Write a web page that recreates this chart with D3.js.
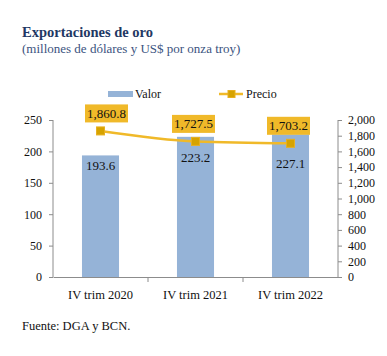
<!DOCTYPE html>
<html><head><meta charset="utf-8">
<script src="https://cdn.jsdelivr.net/npm/d3@7"></script>
</head><body style="margin:0;background:#fff"><svg id="c" width="387" height="356" style="display:block"></svg>
<script>
const categories = ["IV trim 2020", "IV trim 2021", "IV trim 2022"];
const valor = [193.6, 223.2, 227.1];
const precio = [1860.8, 1727.5, 1703.2];
const leftTicks = [0, 50, 100, 150, 200, 250];
const rightTicks = [0, 200, 400, 600, 800, 1000, 1200, 1400, 1600, 1800, 2000];
const barLabelDy = [10, 20, 29];

const FF = '"Liberation Serif"';
const svg = d3.select("#c");
const m = {l: 53, r: 338, t: 120, b: 277};
const x = d3.scaleBand().domain(categories).range([m.l, m.r]).paddingInner(0.61).paddingOuter(0.305);
const yL = d3.scaleLinear().domain([0, 250]).range([m.b, m.t]);
const yR = d3.scaleLinear().domain([0, 2000]).range([m.b, m.t]);
const axisCol = "#8c8c8c";

const T = (sel) => sel.style("font-family", FF);
T(svg.append("text")).attr("x", 22).attr("y", 37).attr("font-size", 14.5).attr("font-weight", "bold").attr("fill", "#1f3864").text("Exportaciones de oro");
T(svg.append("text")).attr("x", 22).attr("y", 53).attr("font-size", 13).attr("fill", "#3b5380").text("(millones de dólares y US$ por onza troy)");
T(svg.append("text")).attr("x", 22).attr("y", 330).attr("font-size", 12.5).attr("fill", "#111").text("Fuente: DGA y BCN.");

// legend
svg.append("rect").attr("x", 108).attr("y", 91).attr("width", 25).attr("height", 6).attr("fill", "#95b3d7");
T(svg.append("text")).attr("x", 135).attr("y", 98).attr("font-size", 12).attr("fill", "#111").text("Valor");
svg.append("line").attr("x1", 219).attr("x2", 243).attr("y1", 94).attr("y2", 94).attr("stroke", "#f0b929").attr("stroke-width", 2.5);
svg.append("rect").attr("x", 228).attr("y", 90.5).attr("width", 7).attr("height", 7).attr("fill", "#d6a300").attr("stroke", "#e8b020");
T(svg.append("text")).attr("x", 246).attr("y", 98).attr("font-size", 12).attr("fill", "#111").text("Precio");

// bars
svg.selectAll(".bar").data(valor).join("rect").attr("class", "bar")
  .attr("x", (d, i) => x(categories[i])).attr("width", x.bandwidth())
  .attr("y", d => yL(d)).attr("height", d => yL(0) - yL(d)).attr("fill", "#95b3d7");

// axes
const gL = svg.append("g").attr("transform", `translate(${m.l},0)`)
  .call(d3.axisLeft(yL).tickValues(leftTicks).tickSize(4).tickPadding(7));
const gR = svg.append("g").attr("transform", `translate(${m.r},0)`)
  .call(d3.axisRight(yR).tickValues(rightTicks).tickSize(4).tickPadding(6).tickFormat(d3.format(",")));
const xb = d3.scaleBand().domain(categories).range([m.l, m.r]);
const gB = svg.append("g").attr("transform", `translate(0,${m.b})`)
  .call(d3.axisBottom(xb).tickSize(0).tickPadding(13));
gB.selectAll(".xt").data([m.l + xb.step(), m.l + 2 * xb.step()]).join("line").attr("class", "xt")
  .attr("x1", d => d).attr("x2", d => d).attr("y1", 0).attr("y2", 5).attr("stroke", axisCol);
[gL, gR, gB].forEach(g => {
  g.select(".domain").attr("stroke", axisCol).attr("stroke-width", 1);
  g.selectAll(".tick line").attr("stroke", axisCol);
  T(g.selectAll("text")).attr("fill", "#111");
});
gL.selectAll("text").style("font-size", "12px");
gR.selectAll("text").style("font-size", "12px");
gB.selectAll("text").style("font-size", "12.5px");
gL.select(".domain").attr("d", `M0,${m.t}V${m.b}`);
gR.select(".domain").attr("d", `M0,${m.t}V${m.b}`);

// bar labels
T(svg.selectAll(".bl").data(valor).join("text").attr("class", "bl"))
  .attr("x", (d, i) => x(categories[i]) + x.bandwidth() / 2)
  .attr("y", (d, i) => yL(d) + barLabelDy[i] + 5)
  .attr("text-anchor", "middle").attr("font-size", 13).attr("fill", "#111").text(d => d.toFixed(1));

// line
const cx = (i) => x(categories[i]) + x.bandwidth() / 2;
svg.append("path").datum(precio).attr("fill", "none").attr("stroke", "#f0b929").attr("stroke-width", 2.5)
  .attr("d", d3.line().x((d, i) => cx(i)).y(d => yR(d)).curve(d3.curveMonotoneX));
svg.selectAll(".mk").data(precio).join("rect").attr("class", "mk")
  .attr("x", (d, i) => cx(i) - 4).attr("y", d => yR(d) - 4).attr("width", 8).attr("height", 8)
  .attr("fill", "#d6a300").attr("stroke", "#e8b020");

// price labels
const fmt = d3.format(",.1f");
precio.forEach((d, i) => {
  const g = svg.append("g");
  const t = T(g.append("text")).attr("x", cx(i) + (i === 0 ? 6 : -2)).attr("y", yR(d) - 13)
    .attr("text-anchor", "middle").attr("font-size", 13).attr("fill", "#111").text(fmt(d));
  const bb = t.node().getBBox();
  g.insert("rect", "text").attr("x", bb.x - 2).attr("y", yR(d) - 26.5).attr("width", bb.width + 4).attr("height", 18).attr("fill", "#f0b929");
});
</script></body></html>
